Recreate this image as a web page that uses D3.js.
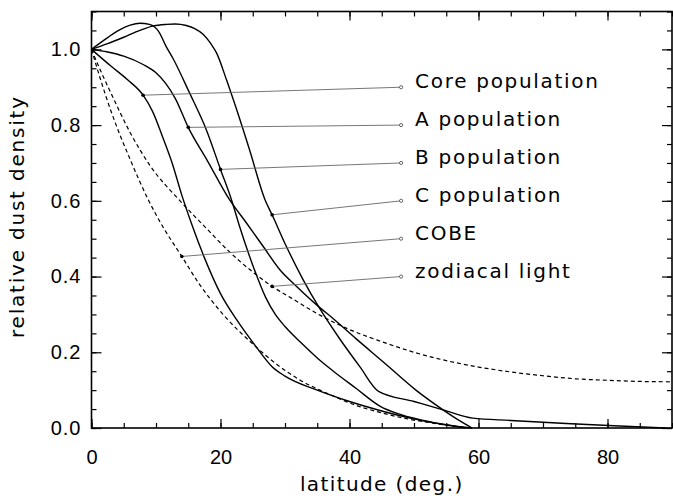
<!DOCTYPE html>
<html>
<head>
<meta charset="utf-8">
<script src="https://cdn.jsdelivr.net/npm/d3@7"></script>
<style>
  html, body { margin: 0; padding: 0; background: #fff; }
  svg { display: block; font-family: 'DejaVu Sans', sans-serif; }
</style>
</head>
<body>
<div id="chart"></div>
<script>
// Latitudinal dust density profiles
const seriesNames = ['Core population', 'A population', 'B population', 'C population', 'COBE', 'zodiacal light'];

const coreLat = [0, 3, 5.5, 8, 9.5, 11, 12.5, 14, 15.5, 17.5, 20, 22.5, 25.5, 28, 30, 35, 40, 45, 50, 55, 58];
const coreDensity = [1.0, 0.956, 0.921, 0.879, 0.835, 0.77, 0.70, 0.615, 0.54, 0.45, 0.355, 0.286, 0.215, 0.162, 0.137, 0.10, 0.07, 0.045, 0.024, 0.008, 0.0];

const aLat = [0, 2.5, 5, 8, 10, 11.5, 13, 15, 18, 21.4, 24, 26.6, 29.2, 31.8, 35.4, 37.4, 41, 45.2, 50.3, 54.5, 57, 59];
const aDensity = [1.0, 0.993, 0.982, 0.96, 0.938, 0.91, 0.87, 0.794, 0.705, 0.603, 0.542, 0.48, 0.418, 0.374, 0.318, 0.29, 0.236, 0.175, 0.10, 0.048, 0.02, 0.0];

const bLat = [0, 2, 4, 6, 7.5, 9, 10.5, 11.5, 12.7, 15.2, 17.8, 20, 21.7, 23, 25, 27, 28.5, 30, 32.5, 35, 37.5, 41, 44.7, 48, 52.9, 59];
const bDensity = [1.0, 1.025, 1.048, 1.064, 1.069, 1.066, 1.045, 1.01, 0.974, 0.885, 0.788, 0.683, 0.603, 0.53, 0.43, 0.345, 0.30, 0.268, 0.225, 0.185, 0.15, 0.105, 0.058, 0.035, 0.015, 0.0];

const cLat = [0, 2.5, 5, 7.5, 9.6, 11.6, 13, 14.7, 16, 17.3, 18.5, 19.4, 20.9, 22.5, 24.5, 26.9, 28, 30.2, 32.8, 35.4, 38.5, 41.6, 44.5, 50, 54.5, 59.1, 65, 73.6, 81, 89];
const cDensity = [1.0, 1.015, 1.032, 1.05, 1.062, 1.066, 1.067, 1.063, 1.055, 1.04, 1.015, 0.99, 0.921, 0.841, 0.735, 0.603, 0.563, 0.48, 0.392, 0.315, 0.235, 0.162, 0.097, 0.07, 0.048, 0.026, 0.02, 0.012, 0.006, 0.0];

const cobeLat = [0, 1.5, 3, 6, 8.8, 10.6, 14, 16.8, 20.4, 25, 29.2, 32.3, 35.4, 37.4, 41, 45.2, 49, 52.9, 56, 59];
const cobeDensity = [1.0, 0.915, 0.838, 0.709, 0.603, 0.545, 0.453, 0.378, 0.30, 0.222, 0.162, 0.127, 0.10, 0.085, 0.06, 0.039, 0.024, 0.013, 0.005, 0.0];

const zodiLat = [0, 1.5, 3, 6, 9, 14, 18, 21.4, 25, 28, 31, 35, 40, 45, 50, 55, 60, 65, 70, 75, 80, 85, 90];
const zodiDensity = [1.0, 0.94, 0.885, 0.78, 0.695, 0.595, 0.524, 0.465, 0.412, 0.374, 0.343, 0.302, 0.26, 0.228, 0.20, 0.178, 0.161, 0.148, 0.138, 0.130, 0.126, 0.123, 0.122];

const seriesLat = [coreLat, aLat, bLat, cLat, cobeLat, zodiLat];
const seriesDensity = [coreDensity, aDensity, bDensity, cDensity, cobeDensity, zodiDensity];
const seriesDashed = [false, false, false, false, true, true];

// Where each leader line leaves its curve, and where its label sits
const anchorLat = [8, 15, 20, 28, 14, 28];
const labelLat = 48;
const labelDensity = [0.9, 0.8, 0.7, 0.6, 0.5, 0.4];

const xMajorTicks = [0, 20, 40, 60, 80];
const xMinorTicks = d3.range(0, 91, 5);
const yMajorTicks = [0, 0.2, 0.4, 0.6, 0.8, 1.0];
const yMinorTicks = d3.range(0, 23).map(i => i * 0.05);

const width = 673;
const height = 498;
const plot = { left: 91.5, right: 672, top: 11.5, bottom: 428 };

const x = d3.scaleLinear().domain([0, 90]).range([plot.left, plot.right]);
const y = d3.scaleLinear().domain([0, 1.1]).range([plot.bottom, plot.top]);

const svg = d3.select('#chart')
  .append('svg')
  .attr('width', width)
  .attr('height', height)
  .attr('viewBox', [0, 0, width, height]);

/**
 * Ticks on all four sides, pointing into the plot
 */
function drawTicks() {
  const strip = g => {
    g.select('.domain').remove();
    g.selectAll('line').attr('stroke', '#000').attr('stroke-width', 1.2);
  };

  // bottom
  svg.append('g').attr('transform', `translate(0,${plot.bottom})`)
    .call(d3.axisBottom(x).tickValues(xMinorTicks).tickSize(-5).tickFormat(''))
    .call(strip);
  svg.append('g').attr('transform', `translate(0,${plot.bottom})`)
    .call(d3.axisBottom(x).tickValues(xMajorTicks).tickSize(-9).tickPadding(22).tickFormat(d3.format('d')))
    .call(strip)
    .call(g => g.selectAll('text')
      .attr('fill', '#000')
      .style('font-size', '20px'));

  // top
  svg.append('g').attr('transform', `translate(0,${plot.top})`)
    .call(d3.axisTop(x).tickValues(xMinorTicks).tickSize(-5).tickFormat(''))
    .call(strip);
  svg.append('g').attr('transform', `translate(0,${plot.top})`)
    .call(d3.axisTop(x).tickValues(xMajorTicks).tickSize(-9).tickFormat(''))
    .call(strip);

  // left
  svg.append('g').attr('transform', `translate(${plot.left},0)`)
    .call(d3.axisLeft(y).tickValues(yMinorTicks).tickSize(-5).tickFormat(''))
    .call(strip);
  svg.append('g').attr('transform', `translate(${plot.left},0)`)
    .call(d3.axisLeft(y).tickValues(yMajorTicks).tickSize(-10).tickPadding(10).tickFormat(d3.format('.1f')))
    .call(strip)
    .call(g => g.selectAll('text')
      .attr('fill', '#000')
      .style('font-size', '20px')
      .style('letter-spacing', '1px'));

  // right
  svg.append('g').attr('transform', `translate(${plot.right},0)`)
    .call(d3.axisRight(y).tickValues(yMinorTicks).tickSize(-5).tickFormat(''))
    .call(strip);
  svg.append('g').attr('transform', `translate(${plot.right},0)`)
    .call(d3.axisRight(y).tickValues(yMajorTicks).tickSize(-10).tickFormat(''))
    .call(strip);
}

/**
 * Linear lookup of a series value at a given latitude
 */
function densityAt(i, lat) {
  const xs = seriesLat[i];
  const ys = seriesDensity[i];
  const j = d3.bisectLeft(xs, lat);
  if (xs[j] === lat) return ys[j];
  const t = (lat - xs[j - 1]) / (xs[j] - xs[j - 1]);
  return ys[j - 1] + t * (ys[j] - ys[j - 1]);
}

drawTicks();

// Curves
const line = d3.line()
  .x(d => x(d[0]))
  .y(d => y(d[1]))
  .curve(d3.curveMonotoneX);

seriesNames.forEach((name, i) => {
  const pts = seriesLat[i].map((lat, k) => [lat, seriesDensity[i][k]]);
  svg.append('path')
    .datum(pts)
    .attr('d', line)
    .attr('fill', 'none')
    .attr('stroke', '#000')
    .attr('stroke-width', seriesDashed[i] ? 1.2 : 1.4)
    .attr('stroke-dasharray', seriesDashed[i] ? '4,3' : null);
});

// Leader lines and labels
seriesNames.forEach((name, i) => {
  const x0 = x(anchorLat[i]);
  const y0 = y(densityAt(i, anchorLat[i]));
  const x1 = x(labelLat);
  const y1 = y(labelDensity[i]);

  svg.append('line')
    .attr('x1', x0).attr('y1', y0)
    .attr('x2', x1).attr('y2', y1)
    .attr('stroke', '#666')
    .attr('stroke-width', 0.9);

  svg.append('circle')
    .attr('cx', x0).attr('cy', y0).attr('r', 1.8)
    .attr('fill', '#000');

  svg.append('circle')
    .attr('cx', x1).attr('cy', y1).attr('r', 1.6)
    .attr('fill', '#fff')
    .attr('stroke', '#444')
    .attr('stroke-width', 0.8);

  svg.append('text')
    .attr('x', x1 + 14)
    .attr('y', y1 + 1)
    .attr('fill', '#000')
    .style('font-size', '20px')
    .style('letter-spacing', '1.7px')
    .text(name);
});

// Frame
svg.append('rect')
  .attr('x', plot.left)
  .attr('y', plot.top)
  .attr('width', plot.right - plot.left)
  .attr('height', plot.bottom - plot.top)
  .attr('fill', 'none')
  .attr('stroke', '#000')
  .attr('stroke-width', 1.6);

// Axis titles
svg.append('text')
  .attr('x', (plot.left + plot.right) / 2)
  .attr('y', 491)
  .attr('text-anchor', 'middle')
  .attr('fill', '#000')
  .style('font-size', '20px')
  .style('letter-spacing', '1.4px')
  .text('latitude (deg.)');

svg.append('text')
  .attr('transform', `translate(24,${(97 + 338) / 2}) rotate(-90)`)
  .attr('text-anchor', 'middle')
  .attr('fill', '#000')
  .attr('textLength', 241)
  .attr('lengthAdjust', 'spacing')
  .style('font-size', '20px')
  .text('relative dust density');
</script>
</body>
</html>
